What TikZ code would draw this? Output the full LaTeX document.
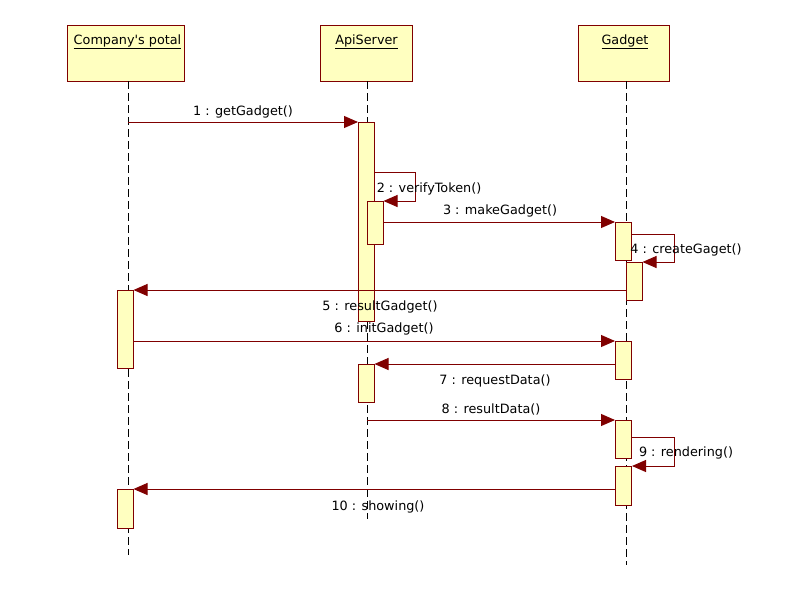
\documentclass[tikz,border=0pt]{standalone}
\usepackage{fontspec}
\setmainfont{DejaVu Sans}
\usetikzlibrary{arrows.meta,positioning}
\definecolor{umlred}{RGB}{128,0,0}
\definecolor{umlfill}{RGB}{255,255,192}

\begin{document}
\begin{tikzpicture}[x=1pt,y=-1pt,
    objbox/.style={draw=umlred, fill=umlfill, line width=1pt, inner sep=0pt},
    act/.style={draw=umlred, fill=umlfill, line width=1pt, minimum width=16pt, inner sep=0pt, anchor=north},
    lifeline/.style={draw=black, line width=0.8pt, dash pattern=on 8pt off 4pt},
    msg/.style={draw=umlred, line width=1pt, -{Triangle[length=14pt,width=12pt]}},
    lbl/.style={inner sep=0pt, font=\fontsize{12.8}{15}\selectfont}]
  \useasboundingbox (0,0) rectangle (792,592);

  % objects
  \node[objbox, minimum width=117pt, minimum height=56pt] (cp) at (125.5,53) {};
  \node[objbox, minimum width=92pt, minimum height=56pt] (api) at (366,53) {};
  \node[objbox, minimum width=91pt, minimum height=56pt] (gad) at (623.5,53) {};
  \node[lbl] (cpName) at (127.5,42) {\underline{Company\textquotesingle s potal}};
  \node[lbl] (apiName) at (366.5,42) {\underline{ApiServer}};
  \node[lbl] (gadName) at (625,42) {\underline{Gadget}};

  % lifelines
  \coordinate (cpT) at (128,81);  \coordinate (cpB) at (128,555);
  \coordinate (apiT) at (367,81); \coordinate (apiB) at (367,519);
  \coordinate (gT) at (626,81);   \coordinate (gB) at (626,565);
  \draw[lifeline] (cpT) -- (cpB);
  \draw[lifeline] (apiT) -- (apiB);
  \draw[lifeline] (gT) -- (gB);

  % activations
  \node[act, minimum height=199pt] (a1) at (366.5,122) {};
  \node[act, minimum height=43pt] (a2) at (375,201) {};
  \node[act, minimum height=38pt] (a3) at (366,364) {};
  \node[act, minimum height=78pt] (c1) at (125,290) {};
  \node[act, minimum height=39pt] (c2) at (125,489) {};
  \node[act, minimum height=38pt] (g1) at (623.5,222) {};
  \node[act, minimum height=38pt] (g2) at (634,262) {};
  \node[act, minimum height=38pt] (g3) at (623.5,341) {};
  \node[act, minimum height=38pt] (g4) at (623.5,420) {};
  \node[act, minimum height=39pt] (g5) at (623.5,466) {};

  % messages
  \draw[msg] (a1.north west -| cpT) -- (a1.north west);
  \draw[msg] ([yshift=-50pt]a1.north east) -- ++(40,0) |- (a2.north east);
  \draw[msg] (g1.north west -| a2.east) -- (g1.north west);
  \draw[msg] ([yshift=-12pt]g1.north east) -- ++(42,0) |- (g2.north east);
  \draw[msg] (c1.north east -| g2.west) -- (c1.north east);
  \draw[msg] (g3.north west -| c1.east) -- (g3.north west);
  \draw[msg] (a3.north east -| g3.west) -- (a3.north east);
  \draw[msg] (g4.north west -| apiT) -- (g4.north west);
  \draw[msg] ([yshift=-17pt]g4.north east) -- ++(42,0) |- (g5.north east);
  \draw[msg] (c2.north east -| g5.west) -- (c2.north east);

  % labels
  \node[lbl] (l1) at (243,112) {1 : getGadget()};
  \node[lbl] (l2) at (429,189) {2 : verifyToken()};
  \node[lbl] (l3) at (500,211) {3 : makeGadget()};
  \node[lbl] (l4) at (686,250) {4 : createGaget()};
  \node[lbl] (l5) at (380,307) {5 : resultGadget()};
  \node[lbl] (l6) at (384,329) {6 : initGadget()};
  \node[lbl] (l7) at (495,381) {7 : requestData()};
  \node[lbl] (l8) at (491,409) {8 : resultData()};
  \node[lbl] (l9) at (686,453) {9 : rendering()};
  \node[lbl] (l10) at (378,507) {10 : showing()};
\end{tikzpicture}
\end{document}
